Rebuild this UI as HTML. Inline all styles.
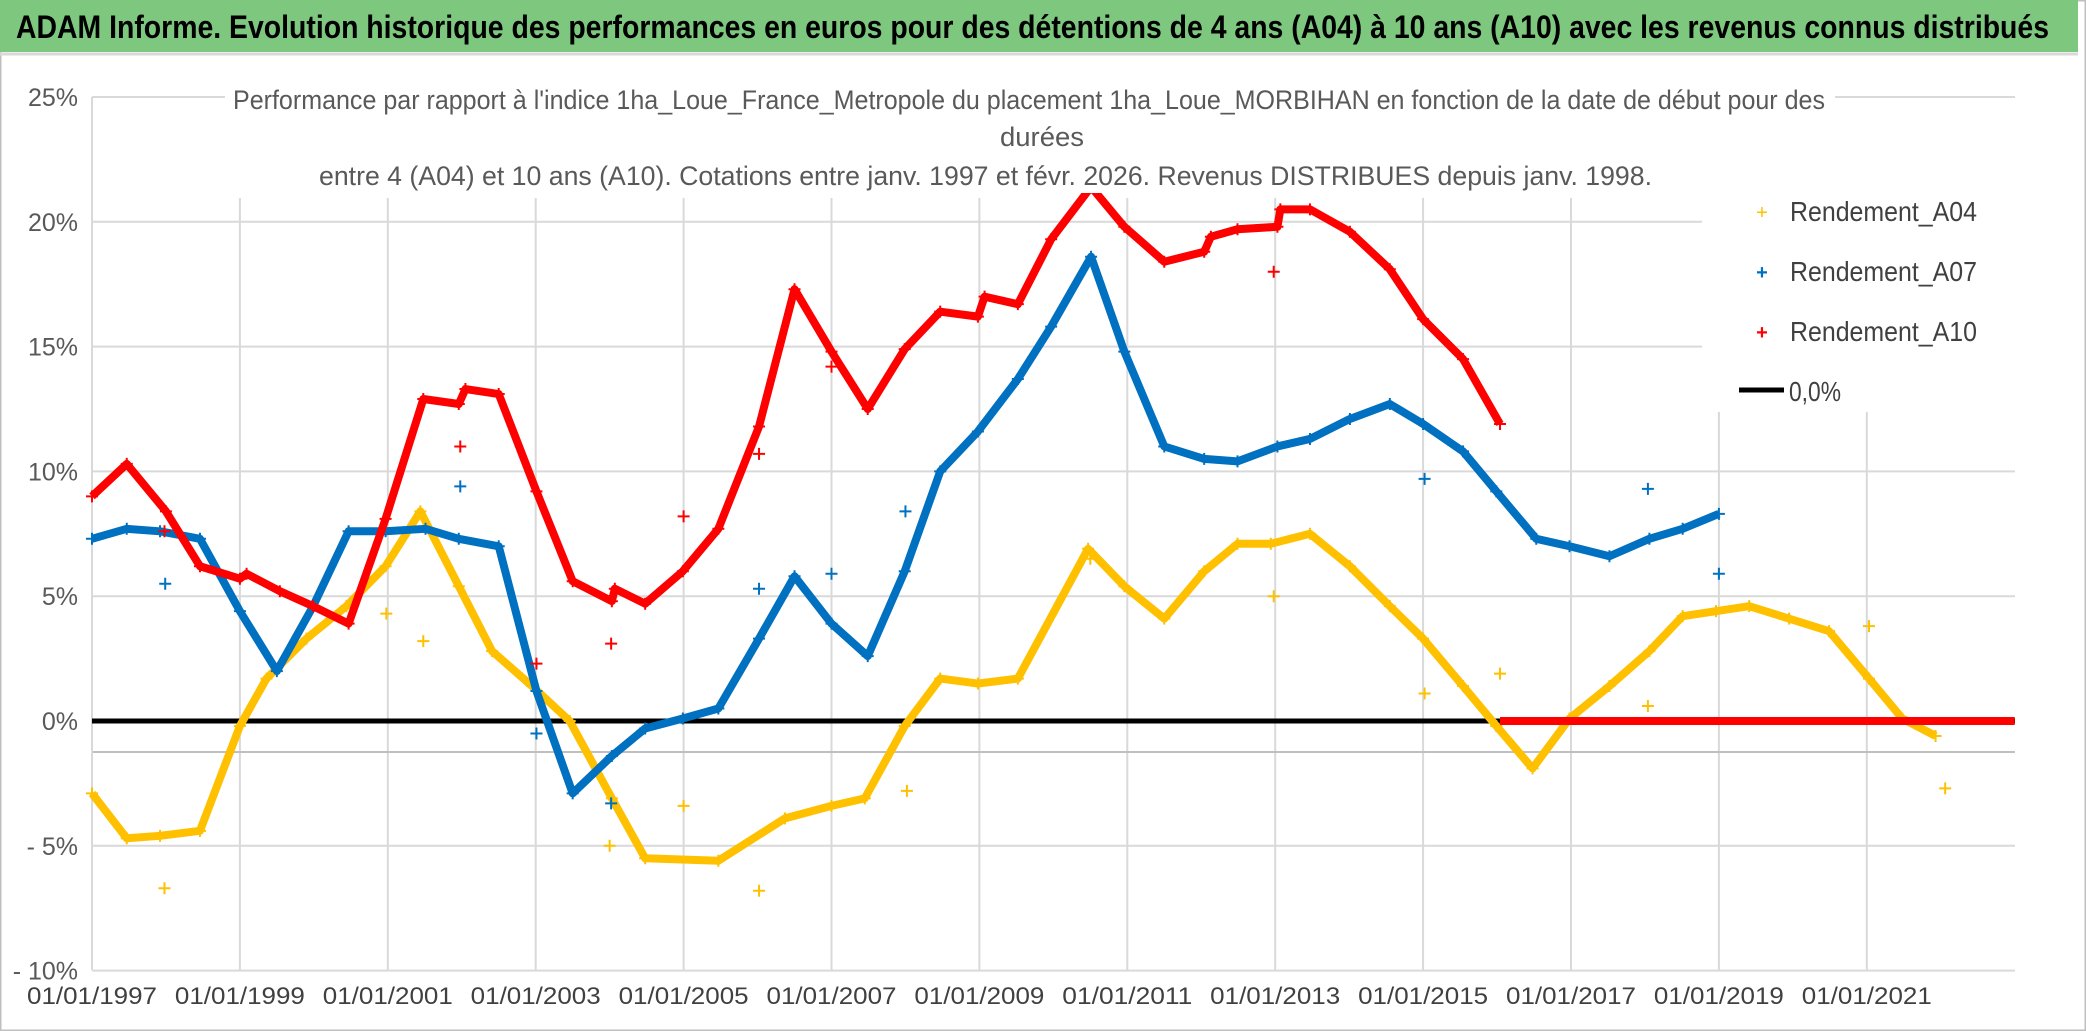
<!DOCTYPE html>
<html><head><meta charset="utf-8"><style>
html,body{margin:0;padding:0;background:#fff;}
svg{display:block;font-family:"Liberation Sans",sans-serif;}
</style></head><body>
<svg width="2086" height="1031" viewBox="0 0 2086 1031">
<rect x="0" y="0" width="2086" height="1031" fill="#fff" stroke="#bfbfbf" stroke-width="3"/>
<rect x="0" y="0" width="2078" height="52" fill="#7DC87E"/>
<line x1="0" y1="54" x2="2078" y2="54" stroke="#d9d9d9" stroke-width="3"/>
<text x="16" y="38" font-size="32" font-weight="bold" fill="#000" textLength="2033" lengthAdjust="spacingAndGlyphs">ADAM Informe. Evolution historique des performances en euros pour des détentions de 4 ans (A04) à 10 ans (A10) avec les revenus connus distribués</text>
<g id="grid"></g>
<line x1="92" y1="752" x2="2015" y2="752" stroke="#bfbfbf" stroke-width="2"/>
<line x1="92" y1="97" x2="92" y2="970" stroke="#d9d9d9" stroke-width="2"/>
<rect x="1702" y="186" width="313" height="226" fill="#fff"/>
<g id="ylabels"></g>
<g id="xlabels"></g>
<g id="series"></g>
<rect x="225" y="78" width="1610" height="115" fill="#fff"/>
<g fill="#595959" font-size="27">
<text x="233" y="109" textLength="1592" lengthAdjust="spacingAndGlyphs">Performance par rapport à l'indice 1ha_Loue_France_Metropole  du placement 1ha_Loue_MORBIHAN en fonction de la date de début pour des</text>
<text x="1000" y="146" textLength="84" lengthAdjust="spacingAndGlyphs">durées</text>
<text x="319" y="185" textLength="1333" lengthAdjust="spacingAndGlyphs">entre 4 (A04) et 10 ans (A10). Cotations entre janv. 1997 et févr. 2026. Revenus DISTRIBUES depuis janv. 1998.</text>
</g>
<g font-size="28" fill="#404040">
<g><text x="1762" y="219" fill="#FFC000" font-size="20" text-anchor="middle">+</text><text x="1790" y="221" textLength="187" lengthAdjust="spacingAndGlyphs">Rendement_A04</text></g>
<g><text x="1762" y="279" fill="#0070C0" font-size="20" text-anchor="middle" font-weight="bold">+</text><text x="1790" y="281" textLength="187" lengthAdjust="spacingAndGlyphs">Rendement_A07</text></g>
<g><text x="1762" y="339" fill="#FF0000" font-size="20" text-anchor="middle" font-weight="bold">+</text><text x="1790" y="341" textLength="187" lengthAdjust="spacingAndGlyphs">Rendement_A10</text></g>
<g><line x1="1739" y1="390" x2="1784" y2="390" stroke="#000" stroke-width="5"/><text x="1789" y="401" textLength="52" lengthAdjust="spacingAndGlyphs">0,0%</text></g>
</g>
</svg>
<script>
const yTicks=[25,20,15,10,5,0,-5,-10];
const yTickLabels=["25%","20%","15%","10%","5%","0%","- 5%","- 10%"];
const xTicks=[1997,1999,2001,2003,2005,2007,2009,2011,2013,2015,2017,2019,2021];
const xTickLabels=["01/01/1997","01/01/1999","01/01/2001","01/01/2003","01/01/2005","01/01/2007","01/01/2009","01/01/2011","01/01/2013","01/01/2015","01/01/2017","01/01/2019","01/01/2021"];
const a04Dates=[1997.0,1997.47,1997.92,1998.46,1999.0,1999.36,1999.9,2000.44,2000.97,2001.44,2001.96,2002.41,2002.95,2003.46,2004.03,2004.48,2005.47,2006.37,2007.0,2007.45,2007.99,2008.47,2008.98,2009.52,2010.47,2010.96,2011.5,2012.04,2012.49,2012.94,2013.47,2014.01,2014.55,2015.0,2015.54,2015.99,2016.48,2016.98,2017.52,2018.06,2018.51,2018.96,2019.41,2019.95,2020.49,2021.03,2021.48,2021.93];
const a04Values=[-2.9,-4.7,-4.6,-4.4,-0.2,1.7,3.3,4.6,6.2,8.4,5.4,2.8,1.4,0,-3.1,-5.5,-5.6,-3.9,-3.4,-3.1,-0.2,1.7,1.5,1.7,6.9,5.4,4.1,6.0,7.1,7.1,7.5,6.2,4.6,3.3,1.4,-0.2,-1.9,0.1,1.4,2.8,4.2,4.4,4.6,4.1,3.6,1.7,0.1,-0.6];
const a04OutDates=[1997.98,2000.98,2001.48,2004.0,2005.0,2006.02,2008.02,2010.5,2012.98,2015.02,2016.04,2018.04,2021.03,2022.06];
const a04OutValues=[-6.7,4.3,3.2,-5.0,-3.4,-6.8,-2.8,6.5,5.0,1.1,1.9,0.6,3.8,-2.7];
const a07Dates=[1997.0,1997.47,1997.92,1998.46,1999.0,1999.5,1999.99,2000.47,2000.97,2001.51,2001.96,2002.5,2003.01,2003.5,2004.03,2004.48,2004.99,2005.47,2006.02,2006.5,2007.0,2007.49,2007.99,2008.47,2008.98,2009.52,2009.97,2010.51,2010.96,2011.5,2012.04,2012.49,2013.03,2013.47,2014.01,2014.55,2015.0,2015.54,2015.99,2016.53,2016.98,2017.52,2018.06,2018.51,2019.0];
const a07Values=[7.3,7.7,7.6,7.3,4.4,2.0,4.6,7.6,7.6,7.7,7.3,7.0,1.2,-2.9,-1.4,-0.3,0.1,0.5,3.3,5.8,3.9,2.6,6.0,10.0,11.6,13.7,15.8,18.6,14.8,11.0,10.5,10.4,11.0,11.3,12.1,12.7,11.9,10.8,9.2,7.3,7.0,6.6,7.3,7.7,8.3];
const a07OutDates=[1997.99,2001.98,2003.01,2004.02,2006.02,2007.0,2008.0,2015.02,2018.04,2019.0];
const a07OutValues=[5.5,9.4,-0.5,-3.3,5.3,5.9,8.4,9.7,9.3,5.9];
const a10Dates=[1997.0,1997.47,1998.0,1998.46,1999.0,1999.09,1999.54,1999.99,2000.47,2000.97,2001.48,2001.96,2002.05,2002.5,2003.01,2003.5,2004.03,2004.07,2004.48,2004.99,2005.47,2006.02,2006.5,2007.0,2007.49,2007.99,2008.47,2008.98,2009.07,2009.52,2009.97,2010.51,2010.96,2011.5,2012.04,2012.13,2012.49,2013.03,2013.07,2013.47,2014.01,2014.55,2015.0,2015.54,2016.04];
const a10Values=[9.0,10.3,8.4,6.2,5.7,5.9,5.2,4.6,3.9,8.1,12.9,12.7,13.3,13.1,9.2,5.6,4.8,5.3,4.7,6.0,7.7,11.8,17.3,14.8,12.5,14.9,16.4,16.2,17.0,16.7,19.3,21.4,19.8,18.4,18.8,19.4,19.7,19.8,20.5,20.5,19.6,18.1,16.1,14.5,11.9];
const a10ZeroDates=[2016.04,2023.0];
const a10ZeroValues=[0,0];
const a10OutDates=[1997.98,2001.98,2003.01,2004.02,2005.0,2006.02,2007.0,2012.98];
const a10OutValues=[7.6,11.0,2.3,3.1,8.2,10.7,14.2,18.0];

const NS="http://www.w3.org/2000/svg";
function X(d){return 92+(d-1997)*73.95;}
function Y(v){return 721-v*24.96;}
function mk(tag,attrs,parent){const e=document.createElementNS(NS,tag);for(const k in attrs)e.setAttribute(k,attrs[k]);parent.appendChild(e);return e;}
const grid=document.getElementById('grid');
yTicks.forEach((v,i)=>{
 const l=mk('line',{x1:92,y1:Y(v),x2:2015,y2:Y(v),stroke:'#d9d9d9','stroke-width':2},grid);
 
 
 const t=mk('text',{x:78,y:Y(v)+9,'text-anchor':'end','font-size':25,fill:'#595959'},document.getElementById('ylabels'));
 t.textContent=yTickLabels[i];
 
 
});
xTicks.forEach((d,i)=>{
 if(i>0){const l=mk('line',{x1:X(d),y1:198,x2:X(d),y2:970,stroke:'#d9d9d9','stroke-width':2},grid);
 
 }
 const t=mk('text',{x:X(d),y:1004,'text-anchor':'middle','font-size':24,fill:'#404040',textLength:130,lengthAdjust:'spacingAndGlyphs'},document.getElementById('xlabels'));
 t.textContent=xTickLabels[i];
 
 
});
const S=document.getElementById('series');
const z=mk('line',{x1:92,y1:Y(0),x2:2015,y2:Y(0),stroke:'#000','stroke-width':5},S);


function line(ds,vs,col,name){
 const p=mk('polyline',{points:ds.map((d,i)=>X(d)+','+Y(vs[i])).join(' '),fill:'none',stroke:col,'stroke-width':8,'stroke-linejoin':'round'},S);
 
 
}
function plus(ds,vs,col,name){
 ds.forEach((d,i)=>{const x=X(d),y=Y(vs[i]);
 const p=mk('path',{d:`M${x-6},${y}H${x+6}M${x},${y-6}V${y+6}`,stroke:col,'stroke-width':2},S);
 
 });
}
line(a04Dates,a04Values,'#FFC000','series-a04');
plus(a04Dates,a04Values,'#FFC000','point-a04');
plus(a04OutDates,a04OutValues,'#FFC000','outlier-a04');
line(a07Dates,a07Values,'#0070C0','series-a07');
plus(a07Dates,a07Values,'#0070C0','point-a07');
plus(a07OutDates,a07OutValues,'#0070C0','outlier-a07');
line(a10Dates,a10Values,'#FF0000','series-a10');
plus(a10Dates,a10Values,'#FF0000','point-a10');
line(a10ZeroDates,a10ZeroValues,'#FF0000','series-a10-zero');
plus(a10OutDates,a10OutValues,'#FF0000','outlier-a10');
</script>
</body></html>
